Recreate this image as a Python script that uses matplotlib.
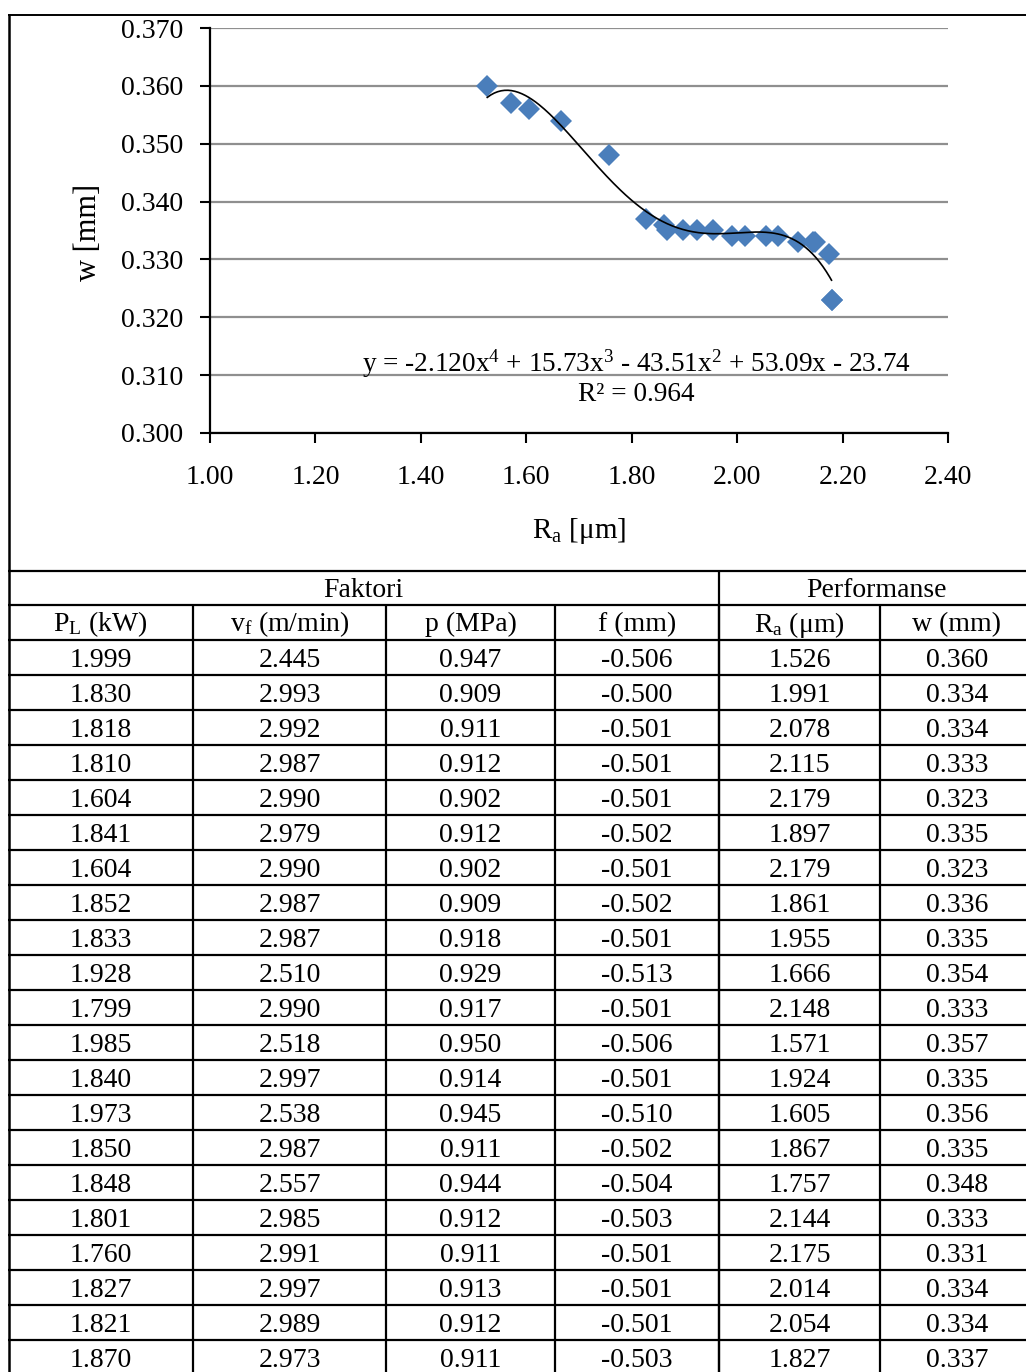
import numpy as np
import matplotlib
matplotlib.use("Agg")
import matplotlib.pyplot as plt
from matplotlib.lines import Line2D

plt.rcParams["font.family"] = ["Liberation Serif", "DejaVu Serif"]
plt.rcParams["mathtext.fontset"] = "custom"
plt.rcParams["mathtext.rm"] = "Liberation Serif"
plt.rcParams["mathtext.it"] = "Liberation Serif:italic"
plt.rcParams["mathtext.default"] = "rm"

# ---- experimental data (one row per run) ----
P_L = [1.999, 1.830, 1.818, 1.810, 1.604, 1.841, 1.604, 1.852, 1.833, 1.928, 1.799,
       1.985, 1.840, 1.973, 1.850, 1.848, 1.801, 1.760, 1.827, 1.821, 1.870]
v_f = [2.445, 2.993, 2.992, 2.987, 2.990, 2.979, 2.990, 2.987, 2.987, 2.510, 2.990,
       2.518, 2.997, 2.538, 2.987, 2.557, 2.985, 2.991, 2.997, 2.989, 2.973]
p_MPa = [0.947, 0.909, 0.911, 0.912, 0.902, 0.912, 0.902, 0.909, 0.918, 0.929, 0.917,
         0.950, 0.914, 0.945, 0.911, 0.944, 0.912, 0.911, 0.913, 0.912, 0.911]
f_mm = [-0.506, -0.500, -0.501, -0.501, -0.501, -0.502, -0.501, -0.502, -0.501, -0.513, -0.501,
        -0.506, -0.501, -0.510, -0.502, -0.504, -0.503, -0.501, -0.501, -0.501, -0.503]
Ra = [1.526, 1.991, 2.078, 2.115, 2.179, 1.897, 2.179, 1.861, 1.955, 1.666, 2.148,
      1.571, 1.924, 1.605, 1.867, 1.757, 2.144, 2.175, 2.014, 2.054, 1.827]
w_mm = [0.360, 0.334, 0.334, 0.333, 0.323, 0.335, 0.323, 0.336, 0.335, 0.354, 0.333,
        0.357, 0.335, 0.356, 0.335, 0.348, 0.333, 0.331, 0.334, 0.334, 0.337]

group_headers = ["Faktori", "Performanse"]
col_headers = [r"P$_\mathrm{L}$ (kW)", r"v$_\mathrm{f}$ (m/min)", "p (MPa)", "f (mm)",
               r"R$_\mathrm{a}$ (μm)", "w (mm)"]
x_ticks = [1.00, 1.20, 1.40, 1.60, 1.80, 2.00, 2.20, 2.40]
y_ticks = [0.300, 0.310, 0.320, 0.330, 0.340, 0.350, 0.360, 0.370]
equation = r"y = -2.120x$^{4}$ + 15.73x$^{3}$ - 43.51x$^{2}$ + 53.09x - 23.74"
r_squared = "R² = 0.964"

W, H = 1026, 1372
fig = plt.figure(figsize=(W / 100, H / 100), dpi=100)
FS = 20


def fx(px):
    return px / W


def fy(py):
    return 1 - py / H


def hline(y, x0, x1, lw=1.6):
    fig.add_artist(Line2D([fx(x0), fx(x1)], [fy(y), fy(y)], color="black", lw=lw,
                          transform=fig.transFigure, solid_capstyle="butt"))


def vline(x, y0, y1, lw=1.6):
    fig.add_artist(Line2D([fx(x), fx(x)], [fy(y0), fy(y1)], color="black", lw=lw,
                          transform=fig.transFigure, solid_capstyle="butt"))


# ---- scatter chart with 4th order trend ----
ax = fig.add_axes([fx(210), fy(433), fx(948) - fx(210), fy(28) - fy(433)])
ax.set_xlim(1.0, 2.4)
ax.set_ylim(0.300, 0.370)
ax.set_xticks(x_ticks)
ax.set_yticks(y_ticks)
ax.set_xticklabels([f"{v:.2f}" for v in x_ticks])
ax.set_yticklabels([f"{v:.3f}" for v in y_ticks])
ax.tick_params(axis="both", direction="out", length=7, width=1.5, labelsize=FS)
ax.tick_params(axis="x", pad=16)
ax.tick_params(axis="y", pad=12)
for side in ("top", "right"):
    ax.spines[side].set_visible(False)
for side in ("left", "bottom"):
    ax.spines[side].set_linewidth(1.6)
ax.yaxis.grid(True, color="#8f8f8f", lw=1.6)
ax.set_axisbelow(True)

ax.plot(Ra, w_mm, linestyle="none", marker="D", ms=11, color="#4a7ebb",
        markeredgewidth=0, zorder=3)

coef = np.polyfit(Ra, w_mm, 4)
xs = np.linspace(min(Ra), max(Ra), 200)
ax.plot(xs, np.polyval(coef, xs), color="black", lw=1.2, zorder=4)

ax.text(0.5774, 0.171, equation, transform=ax.transAxes, ha="center", va="center",
        fontsize=FS - 0.4)
ax.text(0.5774, 0.094, r_squared, transform=ax.transAxes, ha="center", va="center",
        fontsize=FS - 0.4)

fig.text(fx(88), fy(232), "w [mm]", rotation=90, ha="center", va="center", fontsize=FS + 2)
fig.text(fx(579), fy(531), r"R$_\mathrm{a}$ [μm]", ha="center", va="center", fontsize=FS + 1)

# ---- outer frame ----
hline(14.5, 8, W, lw=1.4)
vline(8.5, 14, H, lw=1.8)

# ---- table ----
col_edges = [8, 193, 386, 555, 719, 880, 1034]
row_top = 571
group_h = 34
row_h = 35
hline(row_top, 8, W)
hline(row_top + group_h, 8, W)
vline(719, row_top, H)
fig.text(fx((8 + 719) / 2), fy(row_top + group_h / 2 + 2), group_headers[0],
         ha="center", va="center", fontsize=FS)
fig.text(fx((719 + 1034) / 2), fy(row_top + group_h / 2 + 2), group_headers[1],
         ha="center", va="center", fontsize=FS)

head_top = row_top + group_h
for x in col_edges[1:-1]:
    vline(x, head_top, H)
for i, label in enumerate(col_headers):
    cx = (col_edges[i] + col_edges[i + 1]) / 2
    fig.text(fx(cx), fy(head_top + row_h / 2 + 2), label, ha="center", va="center",
             fontsize=FS)

columns = [P_L, v_f, p_MPa, f_mm, Ra, w_mm]
body_top = head_top + row_h
hline(body_top, 8, W)
for r in range(len(P_L)):
    y0 = body_top + r * row_h
    hline(y0 + row_h, 8, W)
    for i, col in enumerate(columns):
        cx = (col_edges[i] + col_edges[i + 1]) / 2
        fig.text(fx(cx), fy(y0 + row_h / 2 + 3), f"{col[r]:.3f}", ha="center",
                 va="center", fontsize=FS)

fig.savefig("out.png", dpi=100)
